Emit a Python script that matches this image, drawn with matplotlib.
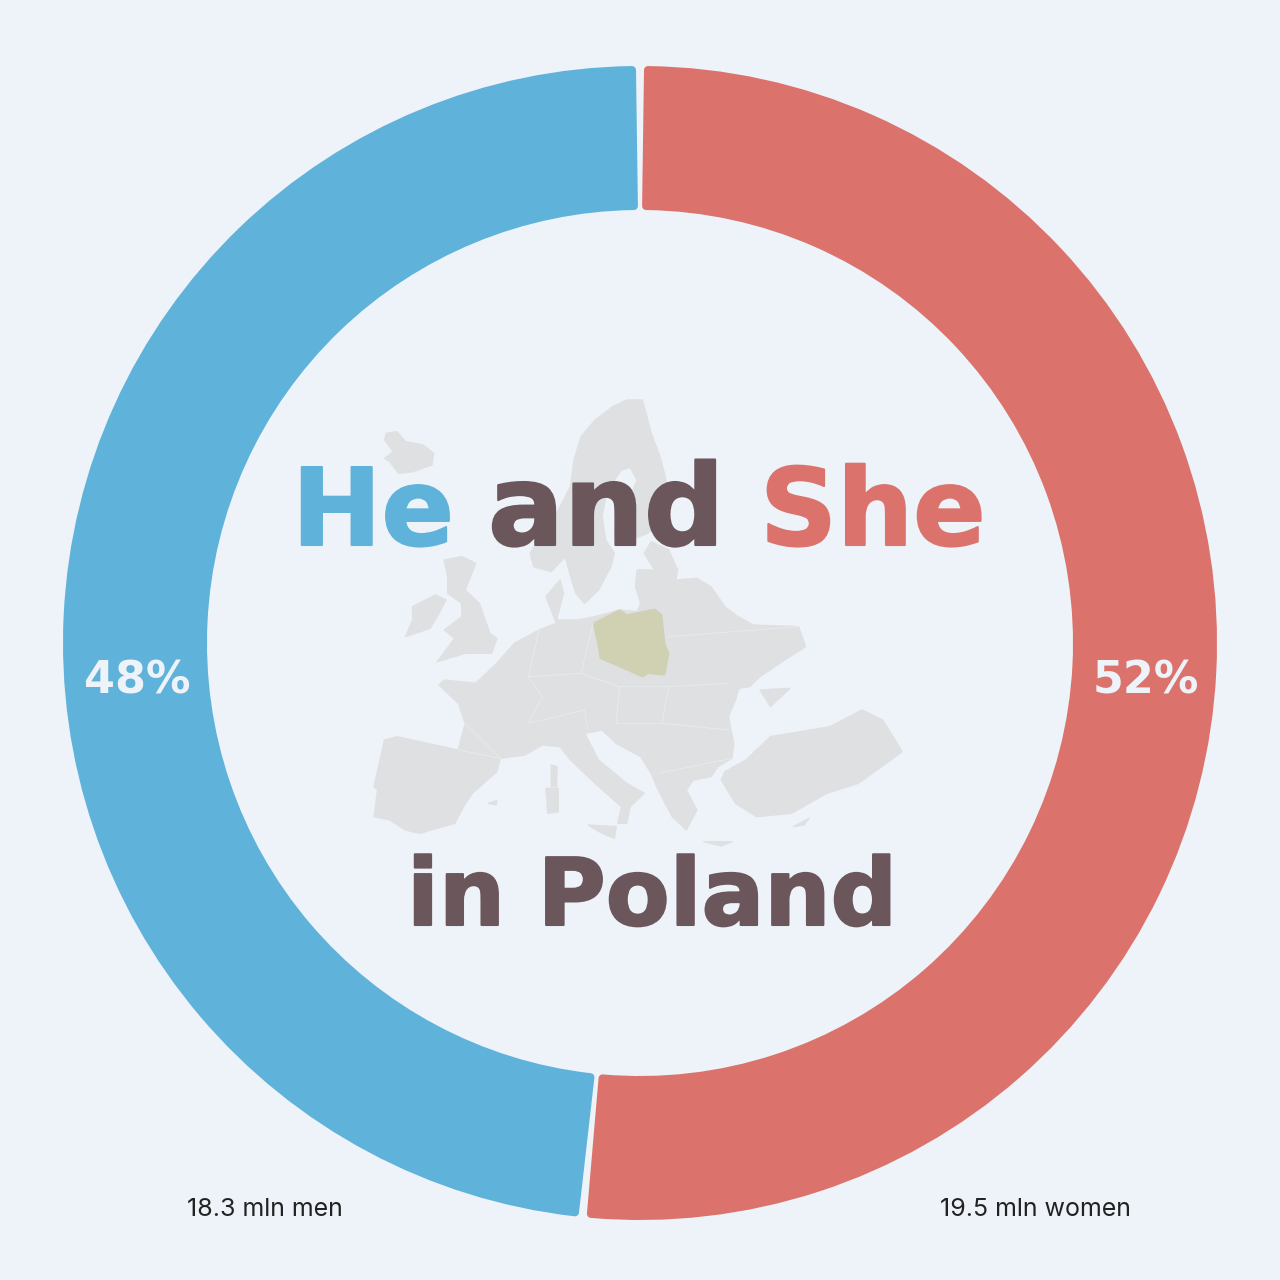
import matplotlib
matplotlib.use('Agg')
import matplotlib.pyplot as plt
from matplotlib.patches import Polygon
import matplotlib.patheffects as pe

# data
categorias = ['women', 'men']
valores = [19.5, 18.3]
percentuais = ['52%', '48%']
rotulos = ['19.5 mln women', '18.3 mln men']

# colours
fundo = '#edf3f9'
azul = '#5fb2d9'
vermelho = '#db736c'
escuro = '#6a565b'
cinza = '#dfe0e1'
polonia_cor = '#d0d0b3'

plt.rcParams['font.family'] = ['Inter', 'DejaVu Sans']

# map outlines
islandia = [(75,130),(105,125),(130,155),(180,165),(210,190),(205,225),(150,245),(110,250),(85,215),(70,205),(95,185),(70,150)]
escandinavia = [(760,30),(805,30),(815,70),(830,130),(855,200),(870,260),(878,330),(860,390),(820,430),(770,450),(730,455),
                (725,420),(745,370),(770,320),(790,270),(770,232),(745,240),(725,270),(700,320),(690,380),(700,450),(725,490),
                (715,530),(680,600),(640,640),(615,610),(595,540),(585,500),(545,545),(495,530),(485,490),(520,430),(560,370),
                (600,290),(610,210),(630,140),(670,90),(720,50)]
continente = [(440,760),(510,720),(560,700),(530,620),(570,570),(580,610),(560,690),(620,690),(670,680),(740,660),(790,665),
              (800,640),(785,590),(790,540),(840,540),(810,490),(830,455),(880,480),(905,540),(900,570),(960,565),(1000,590),
              (1040,650),(1070,675),(1120,705),(1250,710),(1270,770),(1210,810),(1140,860),(1110,890),(1080,895),(1070,930),
              (1050,980),(1065,1060),(1060,1105),(1020,1130),(1000,1160),(950,1170),(930,1200),(960,1260),(930,1320),(890,1280),
              (850,1200),(830,1150),(800,1100),(730,1060),(690,1020),(640,1030),(680,1110),(760,1180),(810,1210),(770,1250),
              (760,1300),(735,1300),(745,1250),(670,1180),(600,1110),(570,1070),(520,1065),(470,1095),(400,1105),(390,1145),
              (320,1210),(295,1250),(270,1300),(170,1330),(130,1320),(85,1290),(40,1280),(50,1200),(40,1190),(70,1050),
              (105,1040),(280,1080),(300,1000),(280,940),(225,885),(240,870),(330,880),(390,820)]
gra_bretanha = [(240,510),(290,500),(330,520),(300,600),(340,640),(370,730),(390,745),(375,790),(300,790),(220,815),(270,745),
                (240,720),(290,680),(290,640),(250,610),(250,560)]
irlanda = [(150,650),(215,615),(245,630),(220,680),(200,715),(130,740),(150,690)]
turquia = [(1040,1145),(1100,1110),(1170,1040),(1340,1010),(1430,960),(1490,990),(1545,1085),(1500,1120),(1420,1180),(1330,1210),
           (1230,1270),(1130,1280),(1070,1240),(1030,1170)]
crimeia = [(1140,900),(1225,895),(1170,950)]
corsega = [(545,1125),(562,1130),(560,1190),(545,1190)]
sardenha = [(530,1195),(565,1195),(565,1265),(535,1270)]
sicilia = [(650,1305),(730,1310),(725,1345),(690,1330)]
creta = [(980,1355),(1060,1355),(1030,1368)]
chipre = [(1235,1310),(1280,1285),(1265,1305)]
baleares = [(365,1240),(390,1232),(388,1245)]
polonia = [(665,700),(740,660),(760,675),(840,658),(860,675),(868,760),(880,790),(868,855),(820,850),(805,860),(740,830),
           (685,805),(678,760)]
fronteiras = [[(300,1000),(400,1105)],[(280,1080),(400,1105)],[(480,860),(520,920),(480,1000)],[(480,1000),(640,960),(650,1020)],
              [(630,850),(740,890),(880,890),(1050,880)],[(880,740),(1250,710)],[(740,890),(730,1000),(860,1000),(880,890)],
              [(860,1000),(1050,1020)],[(850,1150),(1060,1105)],[(510,720),(480,860),(630,850),(665,700)]]


def mapa(pontos):
    # zoom coordinates -> figure pixels
    return [(360 + x / 2.85, 1280 - (390 + y / 3)) for x, y in pontos]


def titulo(x, y, texto, cor, tam):
    t = ax.text(x, 1280 - y, texto, color=cor, fontsize=tam, family='DejaVu Sans', fontweight='bold', ha='left', va='baseline')
    t.set_path_effects([pe.withStroke(linewidth=1.5, foreground=cor)])


fig = plt.figure(figsize=(12.8, 12.8), dpi=100, facecolor=fundo)
ax = fig.add_axes([0, 0, 1, 1])
ax.set_facecolor(fundo)

# ring, a little smaller with a thick round edge so the corners come out rounded
canto = 4
fatias, _ = ax.pie(valores, colors=[vermelho, azul], startangle=90, counterclock=False,
                   center=(640, 637), radius=577 - canto,
                   wedgeprops={'width': 144 - 2 * canto, 'linewidth': 2 * canto * 0.72, 'joinstyle': 'round'})
for fatia, cor in zip(fatias, [vermelho, azul]):
    fatia.set_edgecolor(cor)
    fatia.set_theta1(fatia.theta1 + 0.8)
    fatia.set_theta2(fatia.theta2 - 0.8)

# Europe
for forma in [islandia, escandinavia, continente, gra_bretanha, irlanda, turquia, crimeia, corsega, sardenha, sicilia,
              creta, chipre, baleares]:
    ax.add_patch(Polygon(mapa(forma), closed=True, facecolor=cinza, edgecolor=cinza, lw=1, joinstyle='round'))
for linha in fronteiras:
    xy = mapa(linha)
    ax.plot([p[0] for p in xy], [p[1] for p in xy], color='#e8ebee', lw=0.6)
ax.add_patch(Polygon(mapa(polonia), closed=True, facecolor=polonia_cor, edgecolor=polonia_cor, lw=1, joinstyle='round'))

# title
titulo(292, 545, 'He', azul, 77)
titulo(488, 545, 'and', escuro, 81)
titulo(760, 545, 'She', vermelho, 77)
titulo(407, 925, 'in Poland', escuro, 67)

# percentages and counts
ax.text(137, 1280 - 694, percentuais[1], color=fundo, fontsize=32, family='DejaVu Sans', fontweight='bold', ha='center', va='baseline')
ax.text(1146, 1280 - 694, percentuais[0], color=fundo, fontsize=32, family='DejaVu Sans', fontweight='bold', ha='center', va='baseline')
ax.text(265, 1280 - 1216, rotulos[1], color='#222222', fontsize=18, ha='center', va='baseline')
ax.text(1035, 1280 - 1216, rotulos[0], color='#222222', fontsize=18, ha='center', va='baseline')

ax.set_xlim(0, 1280)
ax.set_ylim(0, 1280)
ax.set_aspect('equal')
ax.axis('off')
fig.savefig('out.png', dpi=100, facecolor=fundo)
